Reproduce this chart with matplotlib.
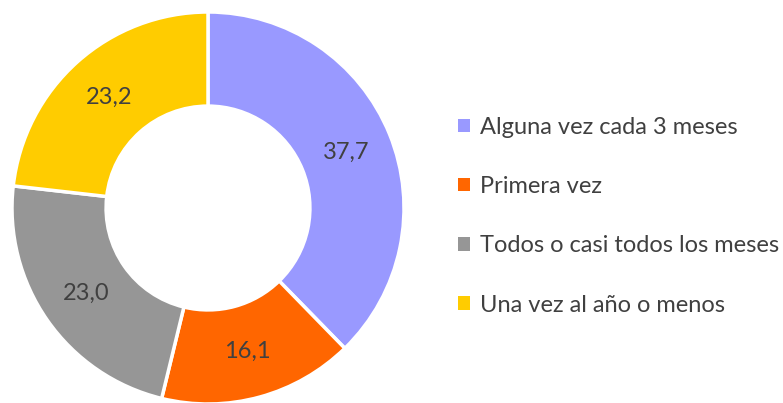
import matplotlib
matplotlib.use("Agg")
import matplotlib.pyplot as plt
import numpy as np

categories = [
    "Alguna vez cada 3 meses",
    "Primera vez",
    "Todos o casi todos los meses",
    "Una vez al año o menos",
]
values = [37.7, 16.1, 23.0, 23.2]
colors = ["#9999FF", "#FF6600", "#969696", "#FFCC00"]

plt.rcParams["font.family"] = ["Lato", "DejaVu Sans"]
text_color = "#404040"

W, H = 783, 403
fig = plt.figure(figsize=(W / 100, H / 100), dpi=100)

# donut centred at (208, 208) px, outer radius ~196 px
cx, cy, r = 208, 208, 196
ax = fig.add_axes([(cx - r) / W, (H - cy - r) / H, 2 * r / W, 2 * r / H])

wedges, texts = ax.pie(
    values,
    colors=colors,
    startangle=90,
    counterclock=False,
    radius=1.0,
    wedgeprops=dict(width=0.48, edgecolor="white", linewidth=2.5),
)

for w, v in zip(wedges, values):
    ang = np.deg2rad((w.theta1 + w.theta2) / 2)
    ax.text(0.76 * np.cos(ang), 0.76 * np.sin(ang), f"{v:.1f}".replace(".", ","),
            ha="center", va="center", fontsize=17, color=text_color)

ax.set_xlim(-1, 1)
ax.set_ylim(-1, 1)
ax.set_aspect("equal")
ax.axis("off")

leg = fig.legend(
    wedges,
    categories,
    loc="upper left",
    bbox_to_anchor=(446 / W, 1 - 105 / H),
    frameon=False,
    fontsize=17,
    handlelength=0.5,
    handleheight=0.5,
    handletextpad=0.45,
    labelspacing=1.62,
    borderpad=0,
)
for t in leg.get_texts():
    t.set_color(text_color)
for h in leg.legend_handles:
    h.set_linewidth(0)

fig.savefig("out.png", dpi=100)
